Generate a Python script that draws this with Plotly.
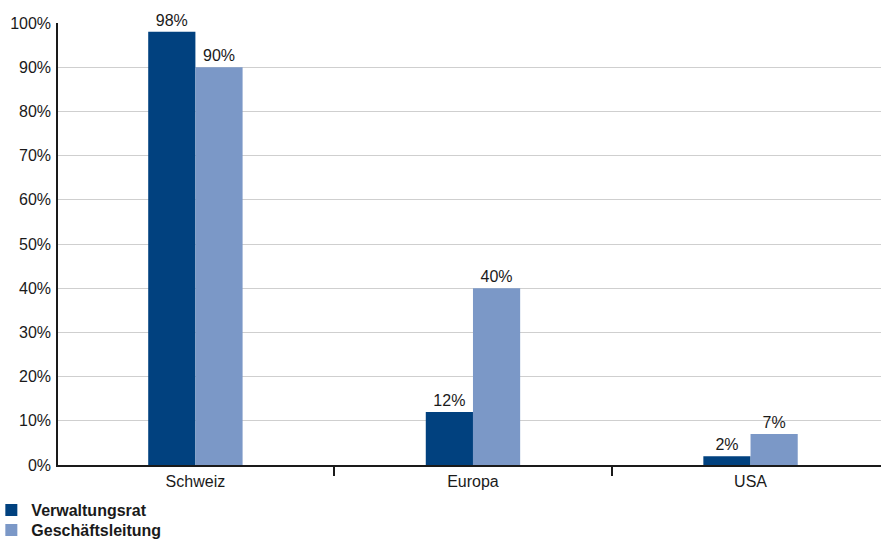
import plotly.graph_objects as go

categories = ["Schweiz", "Europa", "USA"]
verwaltungsrat = [98, 12, 2]
geschaeftsleitung = [90, 40, 7]
y_ticks = [0, 10, 20, 30, 40, 50, 60, 70, 80, 90, 100]
y_ticklabels = [f"{v}%" for v in y_ticks]

DARK = "#01417F"
LIGHT = "#7B98C7"
FONT = "Liberation Sans, Arial, sans-serif"
TXT = "#1a1a1a"

fig = go.Figure()
fig.add_trace(go.Bar(
    name="<b>Verwaltungsrat</b>", x=categories, y=verwaltungsrat,
    marker=dict(color=DARK, line=dict(width=0)),
    text=[f"{v}%" for v in verwaltungsrat], textposition="outside",
    textfont=dict(family=FONT, size=16, color=TXT), cliponaxis=False,
    legend="legend",
))
fig.add_trace(go.Bar(
    name="<b>Geschäftsleitung</b>", x=categories, y=geschaeftsleitung,
    marker=dict(color=LIGHT, line=dict(width=0)),
    text=[f"{v}%" for v in geschaeftsleitung], textposition="outside",
    textfont=dict(family=FONT, size=16, color=TXT), cliponaxis=False,
    legend="legend2",
))

legend_common = dict(
    xanchor="left", yanchor="top", orientation="v", itemwidth=30,
    font=dict(family=FONT, size=16, color=TXT),
    bgcolor="rgba(0,0,0,0)", borderwidth=0,
)

fig.update_layout(
    width=881, height=539,
    margin=dict(l=58, r=0, t=23, b=74, autoexpand=False),
    paper_bgcolor="white", plot_bgcolor="white",
    barmode="group", bargap=0.66, bargroupgap=0,
    font=dict(family=FONT, size=16, color=TXT),
    showlegend=True,
    legend=dict(x=-0.081, y=-0.0633, **legend_common),
    legend2=dict(x=-0.081, y=-0.1086, **legend_common),
    xaxis=dict(
        type="category", range=[-0.495, 2.47],
        showline=True, linecolor="#1a1a1a", linewidth=1.5,
        ticks="outside", tickson="boundaries", ticklen=9, tickwidth=1.5,
        tickcolor="#1a1a1a", showgrid=False, zeroline=False,
        ticklabelstandoff=1,
        tickfont=dict(family=FONT, size=16, color=TXT),
    ),
    yaxis=dict(
        range=[0, 100], tickvals=y_ticks, ticktext=y_ticklabels,
        showline=True, linecolor="#1a1a1a", linewidth=1.5,
        showgrid=True, gridcolor="#cfcfcf", gridwidth=1,
        zeroline=False, ticks="", ticklabelstandoff=2,
        tickfont=dict(family=FONT, size=16, color=TXT),
    ),
)

fig.write_html("out.html")
